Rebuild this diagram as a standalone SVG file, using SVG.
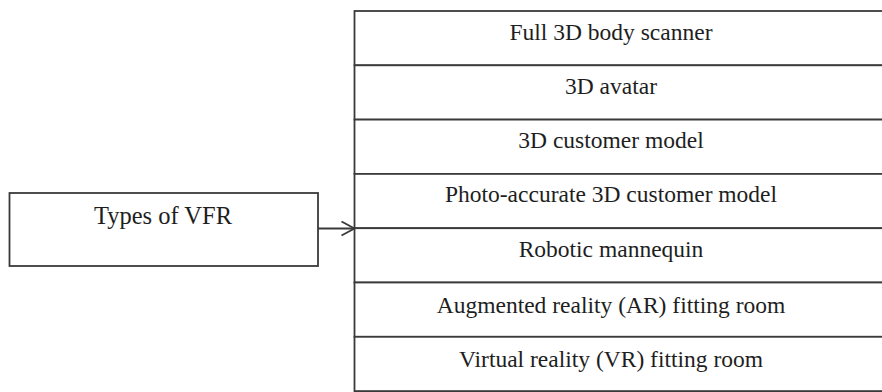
<svg xmlns="http://www.w3.org/2000/svg" width="882" height="392" viewBox="0 0 882 392">
  <style>
    .box { fill: #ffffff; stroke: #3a3a3a; stroke-width: 1.8; }
    .lbl { font-family: "Liberation Serif", "Times New Roman", serif; font-size: 23.5px; fill: #1e1e1e; text-anchor: middle; }
    .conn { fill: none; stroke: #3a3a3a; stroke-width: 1.8; }
  </style>
  <defs>
    <marker id="chev" markerUnits="userSpaceOnUse" markerWidth="16" markerHeight="18" refX="14" refY="8" orient="auto">
      <path d="M1,1 L14,8 L1,15" fill="none" stroke="#3a3a3a" stroke-width="1.8"/>
    </marker>
  </defs>
  <rect width="882" height="392" fill="#ffffff"/>

  <g id="types-of-vfr">
    <rect class="box" x="9.5" y="193" width="308.5" height="73"/>
    <text class="lbl" x="163" y="224" style="font-size:24.5px">Types of VFR</text>
  </g>

  <g id="row-full-3d-body-scanner">
    <rect class="box" x="354.5" y="11" width="540" height="54.3"/>
    <text class="lbl" x="611" y="39.5">Full 3D body scanner</text>
  </g>
  <g id="row-3d-avatar">
    <rect class="box" x="354.5" y="65.3" width="540" height="54.3"/>
    <text class="lbl" x="611" y="94">3D avatar</text>
  </g>
  <g id="row-3d-customer-model">
    <rect class="box" x="354.5" y="119.6" width="540" height="54.3"/>
    <text class="lbl" x="611" y="147.5">3D customer model</text>
  </g>
  <g id="row-photo-accurate">
    <rect class="box" x="354.5" y="173.9" width="540" height="54.3"/>
    <text class="lbl" x="611" y="202">Photo-accurate 3D customer model</text>
  </g>
  <g id="row-robotic-mannequin">
    <rect class="box" x="354.5" y="228.2" width="540" height="54.3"/>
    <text class="lbl" x="611" y="257">Robotic mannequin</text>
  </g>
  <g id="row-ar-fitting-room">
    <rect class="box" x="354.5" y="282.5" width="540" height="54.3"/>
    <text class="lbl" x="611" y="313">Augmented reality (AR) fitting room</text>
  </g>
  <g id="row-vr-fitting-room">
    <rect class="box" x="354.5" y="336.8" width="540" height="54.3"/>
    <text class="lbl" x="611" y="367">Virtual reality (VR) fitting room</text>
  </g>

  <g id="connectors">
    <line class="conn" x1="318" y1="228.5" x2="354.5" y2="228.5" marker-end="url(#chev)"/>
  </g>
</svg>
